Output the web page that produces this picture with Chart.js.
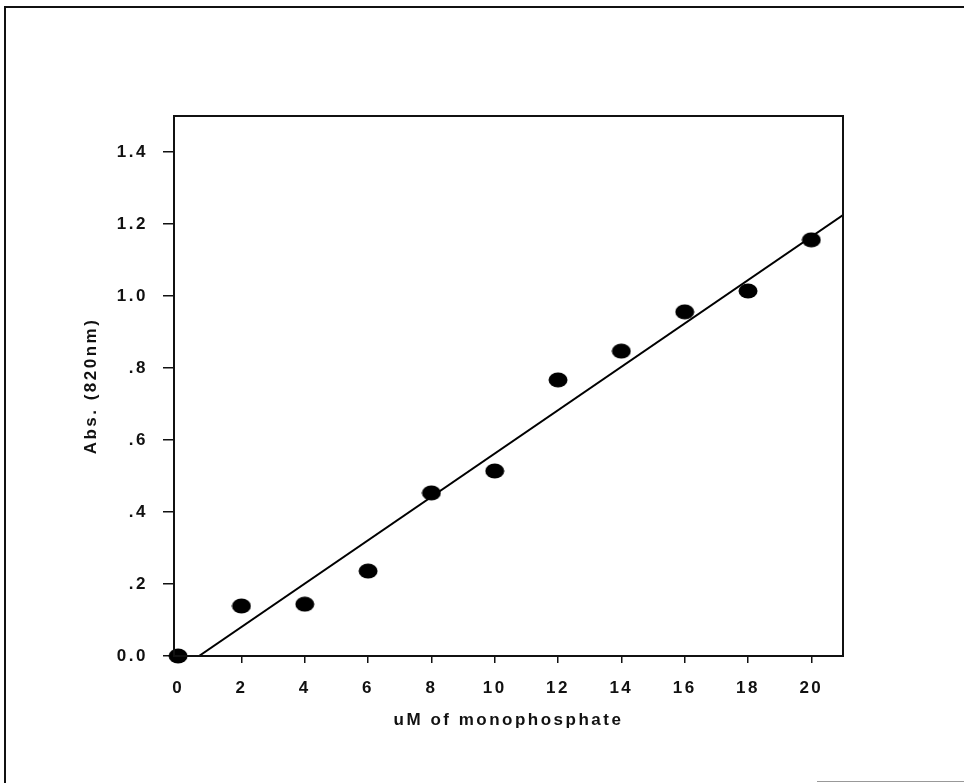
<!DOCTYPE html>
<html>
<head>
<meta charset="utf-8">
<script src="https://cdn.jsdelivr.net/npm/chart.js@4"></script>
<style>
    html, body { margin: 0; padding: 0; background: #fff; }
    #wrap { position: relative; width: 964px; height: 783px; }
    #frame { position: absolute; left: 4px; top: 6px; width: 960px; height: 777px;
             border-left: 2px solid #111; border-top: 2px solid #111; box-sizing: border-box; }
    #foot { position: absolute; left: 817px; top: 781px; width: 147px; height: 1px; background: #999; }
</style>
</head>
<body>
<div id="wrap">
    <canvas id="abs-chart" width="964" height="783"></canvas>
    <div id="frame"></div>
    <div id="foot"></div>
</div>
<script>

let concX = [0, 2, 4, 6, 8, 10, 12, 14, 16, 18, 20];
let absY = [0.0, 0.139, 0.144, 0.236, 0.453, 0.514, 0.767, 0.847, 0.956, 1.014, 1.156];

// ends of the fitted line as drawn
let fitX = [0.66, 21.0];
let fitY = [0.0, 1.225];

let xTicks = [0, 2, 4, 6, 8, 10, 12, 14, 16, 18, 20];
let yTicks = [0, 0.2, 0.4, 0.6, 0.8, 1.0, 1.2, 1.4];
let yTickLabels = ['0.0', '.2', '.4', '.6', '.8', '1.0', '1.2', '1.4'];

const fontFamily = '"Liberation Sans", Arial, sans-serif';

// oval marker like the scanned dots
function makeDot() {
    let c = document.createElement('canvas');
    c.width = 20;
    c.height = 16;
    let g = c.getContext('2d');
    g.fillStyle = '#000';
    g.beginPath();
    g.ellipse(10, 8, 9.5, 7.5, 0, 0, Math.PI * 2);
    g.fill();
    return c;
}

const boxPlugin = {
    id: 'plotBox',
    beforeDraw(chart) {
        chart.ctx.letterSpacing = '2.5px';
    },
    afterDraw(chart) {
        const a = chart.chartArea;
        const ctx = chart.ctx;
        ctx.save();
        ctx.strokeStyle = '#111';
        ctx.lineWidth = 2;
        ctx.strokeRect(a.left, a.top, a.right - a.left, a.bottom - a.top);
        ctx.restore();
    }
};

function drawAbsChart() {
    let points = [];
    for (let i = 0; i < concX.length; ++i)
        points.push({x: concX[i], y: absY[i]});

    let fitLine = [];
    for (let i = 0; i < fitX.length; ++i)
        fitLine.push({x: fitX[i], y: fitY[i]});

    const data = {
        datasets: [{
            type: 'line',
            data: fitLine,
            borderColor: '#000',
            borderWidth: 2,
            pointRadius: 0,
            fill: false,
            order: 2
        }, {
            type: 'scatter',
            data: points,
            pointStyle: makeDot(),
            backgroundColor: '#000',
            clip: false,
            order: 1
        }]
    };

    const tickFont = {family: fontFamily, size: 17, weight: 'bold'};

    const config = {
        type: 'scatter',
        data: data,
        options: {
            responsive: false,
            animation: false,
            layout: {
                padding: {left: 0, top: 116, right: 121, bottom: 0}
            },
            plugins: {
                legend: {display: false},
                tooltip: {enabled: false}
            },
            scales: {
                x: {
                    type: 'linear',
                    min: -0.13,
                    max: 21.0,
                    afterBuildTicks: axis => { axis.ticks = xTicks.map(v => ({value: v})); },
                    afterFit: axis => { axis.height = 127; },
                    border: {display: false},
                    grid: {drawOnChartArea: false, drawTicks: true, tickLength: 7, color: '#111', lineWidth: 1.5},
                    ticks: {color: '#111', font: tickFont, padding: 15, maxRotation: 0},
                    title: {
                        display: true,
                        text: 'uM of monophosphate',
                        color: '#111',
                        font: tickFont,
                        padding: {top: 0, bottom: 52}
                    }
                },
                y: {
                    type: 'linear',
                    min: 0,
                    max: 1.5,
                    afterBuildTicks: axis => { axis.ticks = yTicks.map(v => ({value: v})); },
                    afterFit: axis => { axis.width = 174; },
                    border: {display: false},
                    grid: {drawOnChartArea: false, drawTicks: true, tickLength: 11, color: '#111', lineWidth: 1.5},
                    ticks: {
                        color: '#111',
                        font: tickFont,
                        padding: 15,
                        callback: function(value, index) {
                            return yTickLabels[index];
                        }
                    },
                    title: {
                        display: true,
                        text: 'Abs. (820nm)',
                        color: '#111',
                        font: tickFont,
                        padding: {top: 81, bottom: 0}
                    }
                }
            }
        },
        plugins: [boxPlugin]
    };

    new Chart('abs-chart', config);
}

drawAbsChart();
</script>
</body>
</html>
